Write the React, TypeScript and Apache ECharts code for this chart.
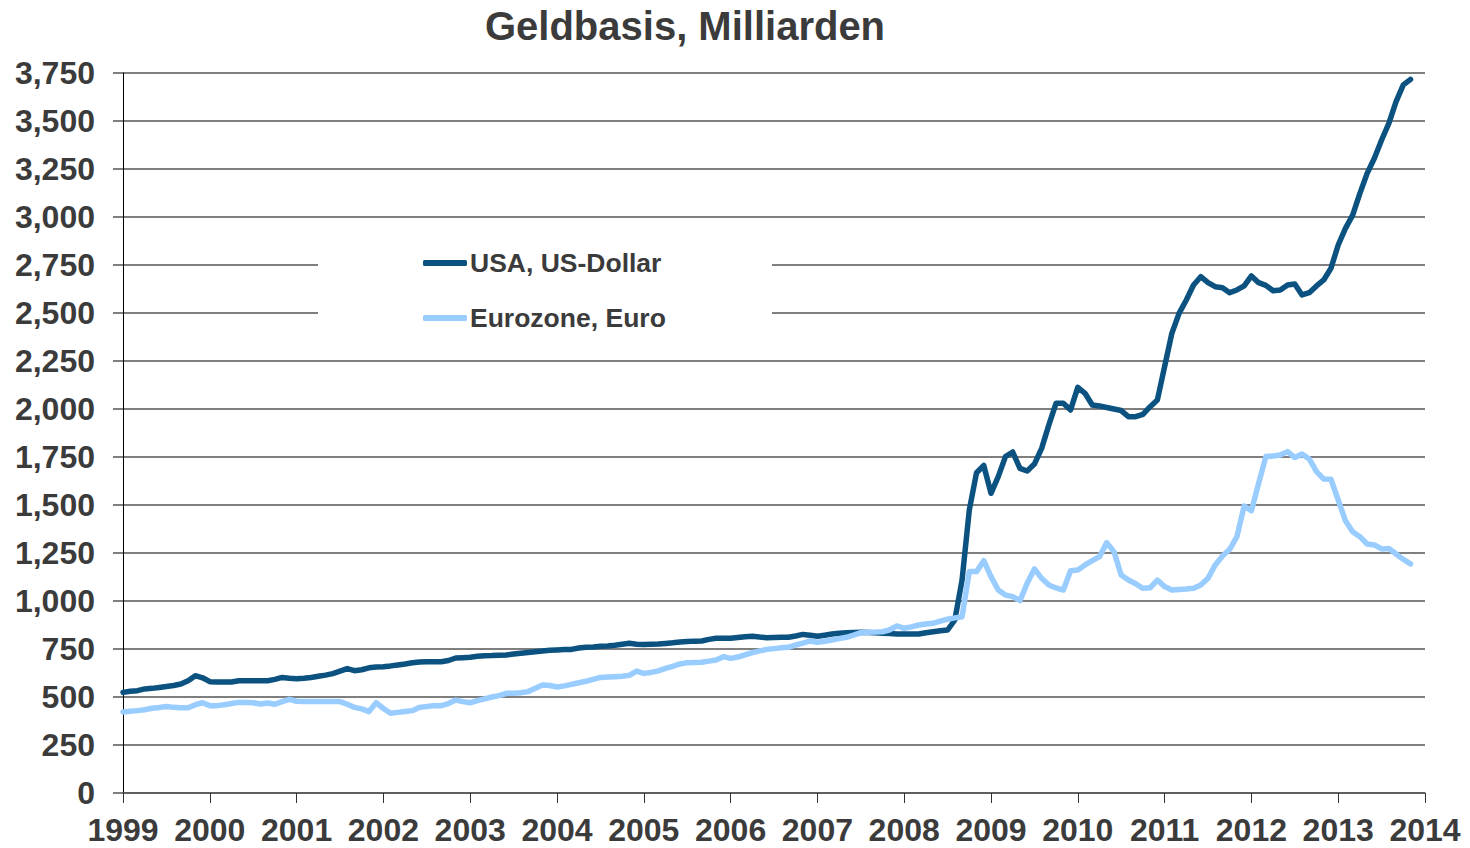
import React, { useEffect, useRef } from "react";
import * as echarts from "echarts";

const TITLE = "Geldbasis, Milliarden";
const SERIES_NAMES = ["USA, US-Dollar", "Eurozone, Euro"];
const START_YEAR = 1999;
const YEAR_TICKS = [1999, 2000, 2001, 2002, 2003, 2004, 2005, 2006, 2007, 2008, 2009, 2010, 2011, 2012, 2013, 2014];

// monthly values, Jan 1999 .. Nov 2013
const USA = [
  524, 530, 533, 542, 545, 550, 555, 560, 568, 585, 611, 600,
  580, 578, 578, 578, 585, 585, 585, 585, 585, 592, 602, 598,
  595, 598, 602, 608, 614, 622, 635, 648, 637, 642, 652, 656,
  658, 662, 667, 672, 678, 682, 684, 684, 684, 690, 703, 705,
  707, 712, 715, 716, 718, 719, 724, 728, 732, 736, 740, 743,
  745, 747, 748, 755, 759, 761, 764, 766, 770, 775, 780, 775,
  774, 775, 776, 779, 782, 786, 789, 791, 792, 800, 806, 806,
  806, 810, 814, 816, 812, 809, 810, 811, 811, 818, 826, 822,
  816, 822, 828, 832, 835, 836, 837, 836, 834, 832, 831, 828,
  828, 828, 828, 835, 840, 845, 849, 901, 1109, 1474, 1668, 1706,
  1561, 1648, 1752, 1776, 1691, 1677, 1713, 1795, 1917, 2030, 2030, 1995,
  2113, 2082, 2021, 2016, 2008, 2000, 1992, 1960, 1960, 1972, 2012, 2047,
  2221, 2394, 2498, 2568, 2646, 2689, 2658, 2637, 2632, 2606, 2620, 2641,
  2693, 2658, 2644, 2616, 2620, 2646, 2651, 2594, 2606, 2641, 2672, 2733,
  2854, 2941, 3010, 3123, 3227, 3306, 3401, 3488, 3601, 3688, 3717,
];

const EURO = [
  422, 426, 429, 434, 441, 445, 450, 446, 444, 444, 460, 470,
  455, 455, 460, 466, 472, 471, 470, 464, 469, 462, 476, 488,
  478, 476, 476, 476, 476, 476, 476, 462, 446, 438, 424, 470,
  440, 415, 420, 425, 429, 446, 450, 455, 455, 466, 484, 476,
  470, 481, 490, 500, 507, 519, 519, 522, 528, 545, 562, 560,
  552, 558, 566, 574, 582, 592, 602, 604, 606, 608, 613, 635,
  623, 628, 636, 649, 660, 672, 679, 680, 681, 687, 693, 710,
  701, 708, 720, 731, 740, 748, 752, 756, 759, 771, 781, 792,
  785, 790, 797, 804, 811, 822, 835, 837, 838, 840, 850, 870,
  858, 865, 875, 880, 884, 895, 905, 912, 918, 1153, 1153, 1210,
  1127, 1057, 1031, 1023, 1002, 1092, 1167, 1118, 1083, 1068, 1057, 1158,
  1161, 1188, 1210, 1231, 1304, 1257, 1135, 1109, 1090, 1066, 1069, 1109,
  1075, 1057, 1060, 1062, 1066, 1083, 1118, 1188, 1234, 1269, 1335, 1495,
  1470, 1613, 1752, 1755, 1760, 1778, 1747, 1766, 1740, 1674, 1635, 1634,
  1526, 1418, 1361, 1335, 1297, 1292, 1271, 1274, 1245, 1217, 1193,
];

const Y_MIN = 0;
const Y_MAX = 3750;
const Y_STEP = 250;

const COLORS = ["#0c5281", "#99ccff"];
const TEXT = "#3b3b3b";
const FONT = "'Liberation Sans', Arial, sans-serif";

function toPoints(values: number[]) {
  return values.map((v, i) => [START_YEAR + i / 12, v]);
}

export default function App() {
  const ref = useRef<HTMLDivElement>(null);

  useEffect(() => {
    if (!ref.current) return;
    const chart = echarts.init(ref.current, undefined, { renderer: "svg" });
    const legendText = { fontFamily: FONT, fontWeight: "bold", fontSize: 26.5, color: TEXT, lineHeight: 30, padding: [0, 0, 0, -2] };
    chart.setOption({
      animation: false,
      backgroundColor: "#ffffff",
      title: {
        text: TITLE,
        left: 680,
        textAlign: "center",
        top: 1,
        textStyle: { fontFamily: FONT, fontWeight: "bold", fontSize: 40, color: TEXT },
      },
      grid: { left: 123, right: 45, top: 73, bottom: 55, containLabel: false },
      legend: [
        {
          data: [SERIES_NAMES[0]],
          left: 423,
          top: 248,
          padding: 0,
          icon: "roundRect",
          itemWidth: 44,
          itemHeight: 6,
          itemGap: 3,
          textStyle: legendText,
        },
        {
          data: [SERIES_NAMES[1]],
          left: 423,
          top: 303,
          padding: 0,
          icon: "roundRect",
          itemWidth: 44,
          itemHeight: 6,
          itemGap: 3,
          textStyle: legendText,
        },
      ],
      graphic: [
        {
          type: "rect",
          z: 3,
          shape: { x: 318, y: 236, width: 454, height: 106 },
          style: { fill: "#ffffff" },
        },
      ],
      xAxis: {
        type: "value",
        min: YEAR_TICKS[0],
        max: YEAR_TICKS[YEAR_TICKS.length - 1],
        interval: 1,
        axisLine: { show: true, lineStyle: { color: "#555555", width: 1.5 } },
        axisTick: { show: true, length: 10, inside: false, lineStyle: { color: "#333333", width: 1 } },
        splitLine: { show: false },
        axisLabel: {
          margin: 21,
          fontFamily: FONT,
          fontWeight: "bold",
          fontSize: 32,
          color: TEXT,
          formatter: (v: number) => String(Math.round(v)),
        },
      },
      yAxis: {
        type: "value",
        min: Y_MIN,
        max: Y_MAX,
        interval: Y_STEP,
        axisLine: { show: true, lineStyle: { color: "#000000", width: 1 } },
        axisTick: { show: true, length: 10, inside: false, lineStyle: { color: "#555555", width: 1.5 } },
        splitLine: { show: true, lineStyle: { color: "#555555", width: 1.5 } },
        axisLabel: {
          margin: 28,
          fontFamily: FONT,
          fontWeight: "bold",
          fontSize: 32,
          color: TEXT,
          formatter: (v: number) => v.toLocaleString("en-US"),
        },
      },
      series: [
        {
          name: SERIES_NAMES[0],
          type: "line",
          data: toPoints(USA),
          showSymbol: false,
          symbol: "none",
          lineStyle: { color: COLORS[0], width: 5.5, cap: "round", join: "round" },
          itemStyle: { color: COLORS[0] },
          z: 5,
        },
        {
          name: SERIES_NAMES[1],
          type: "line",
          data: toPoints(EURO),
          showSymbol: false,
          symbol: "none",
          lineStyle: { color: COLORS[1], width: 5.5, cap: "round", join: "round" },
          itemStyle: { color: COLORS[1] },
          z: 6,
        },
      ],
    });
    return () => chart.dispose();
  }, []);

  return (
    <div
      ref={ref}
      style={{ position: "absolute", left: 0, top: 0, width: 1470, height: 848, background: "#fff" }}
    />
  );
}
